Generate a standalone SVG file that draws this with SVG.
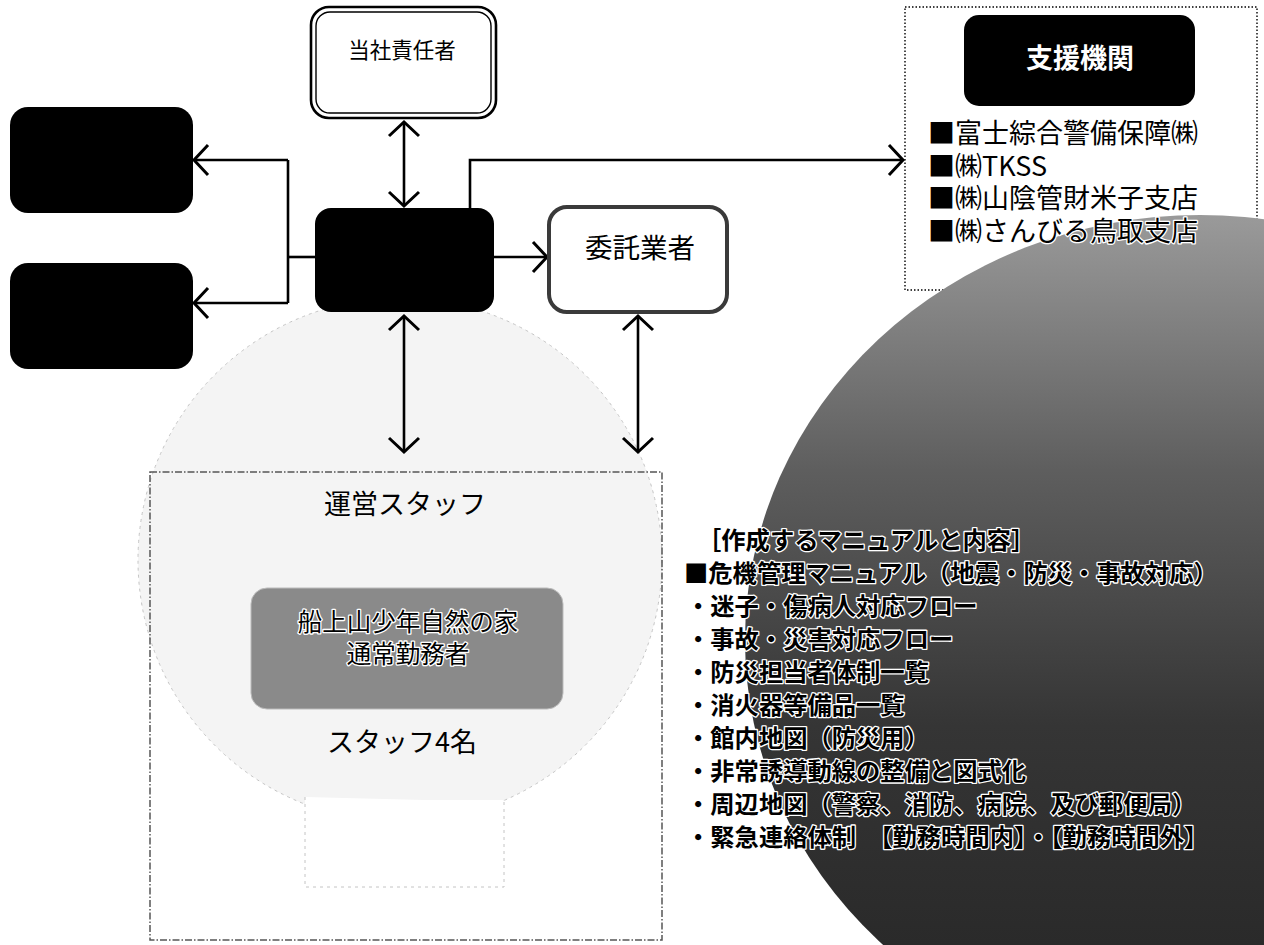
<svg xmlns="http://www.w3.org/2000/svg" width="1264" height="945" viewBox="0 0 1264 945">
<style>
.t{font-family:"Noto Sans CJK JP","Noto Sans",sans-serif;fill:#000}
.mid{text-anchor:middle;dominant-baseline:central}
.ol{stroke:#fff;stroke-width:2.6;stroke-linejoin:round;paint-order:stroke}
.conn{fill:none;stroke:#000;stroke-width:2.6}
.blk{fill:#000}
</style>
<defs>
<marker id="ah" viewBox="-17 -18 20 36" refX="0" refY="0" markerWidth="20" markerHeight="36" markerUnits="userSpaceOnUse" orient="auto-start-reverse">
<path d="M-14,-15 L0,0 L-14,15" fill="none" stroke="#000" stroke-width="3"/>
</marker>
<linearGradient id="dark" x1="0" y1="215" x2="0" y2="945" gradientUnits="userSpaceOnUse">
<stop offset="0" stop-color="#9a9a9a"/>
<stop offset="0.35" stop-color="#5e5e5e"/>
<stop offset="0.7" stop-color="#353535"/>
<stop offset="1" stop-color="#2a2a2a"/>
</linearGradient>
</defs>
<rect width="1264" height="945" fill="#fff"/>

<!-- faint background shapes -->
<g id="bgshape">
<circle cx="400" cy="560" r="262" fill="#f4f4f4" stroke="#c4c4c4" stroke-width="1" stroke-dasharray="3 4"/>
<path d="M305,797 L305,887 L504,887 L504,802" fill="#fff" stroke="#c4c4c4" stroke-width="1" stroke-dasharray="3 4"/>
<rect x="306" y="800" width="197" height="86" fill="#fff"/>
</g>

<!-- support box border -->
<rect x="905" y="7" width="352" height="283" fill="none" stroke="#000" stroke-width="1.4" stroke-dasharray="1.5 2"/>

<!-- dark circle -->
<ellipse id="darkcircle" cx="1200" cy="640" rx="455" ry="425" fill="url(#dark)"/>

<g id="connectors">
<line class="conn" x1="404" y1="122" x2="404" y2="206" marker-start="url(#ah)" marker-end="url(#ah)"/>
<path class="conn" d="M315,257 L288,257"/>
<path class="conn" d="M288,160 L288,303"/>
<line class="conn" x1="288" y1="160" x2="194" y2="160" marker-end="url(#ah)"/>
<line class="conn" x1="288" y1="303" x2="194" y2="303" marker-end="url(#ah)"/>
<line class="conn" x1="494" y1="257" x2="547" y2="257" marker-end="url(#ah)"/>
<path class="conn" d="M470,208 L470,160 L903,160" marker-end="url(#ah)"/>
<line class="conn" x1="404" y1="316" x2="404" y2="452" marker-start="url(#ah)" marker-end="url(#ah)"/>
<line class="conn" x1="638" y1="316" x2="638" y2="452" marker-start="url(#ah)" marker-end="url(#ah)"/>
</g>

<g id="n-sekininsha">
<rect x="311" y="7" width="185" height="111" rx="18" fill="#fff" stroke="#000" stroke-width="2.6"/>
<rect x="316" y="12" width="175" height="101" rx="14" fill="none" stroke="#000" stroke-width="1.4"/>
<text class="t mid" x="402" y="48" font-size="21.5">当社責任者</text>
</g>

<g id="n-left1"><rect class="blk" x="10" y="107" width="183" height="106" rx="18"/></g>
<g id="n-left2"><rect class="blk" x="10" y="263" width="183" height="106" rx="18"/></g>
<g id="n-center"><rect class="blk" x="315" y="208" width="179" height="104" rx="16"/></g>

<g id="n-itaku">
<rect x="549" y="207" width="178" height="105" rx="18" fill="#fff" stroke="#3a3a3a" stroke-width="4"/>
<text class="t mid" x="640" y="246" font-size="27.5">委託業者</text>
</g>

<g id="n-shien">
<rect class="blk" x="964" y="15" width="231" height="91" rx="15"/>
<text class="t mid" x="1080" y="56" font-size="27" font-weight="bold" style="fill:#fff">支援機関</text>
<text class="t" x="928" y="143" font-size="27">■富士綜合警備保障㈱</text>
<text class="t" x="928" y="176" font-size="27">■㈱TKSS</text>
<text class="t" x="928" y="208" font-size="27">■㈱山陰管財米子支店</text>
<text class="t ol" x="928" y="241" font-size="27">■㈱さんびる鳥取支店</text>
</g>

<g id="n-staff">
<rect x="150" y="472" width="512" height="468" fill="none" stroke="#555" stroke-width="1.5" stroke-dasharray="7 2 1.5 2"/>
<text class="t mid" x="405" y="502" font-size="27">運営スタッフ</text>
<rect x="251" y="588" width="312" height="121" rx="16" fill="#8a8a8a" stroke="#bbb" stroke-width="1"/>
<text class="t mid ol" x="408" y="620" font-size="24.5">船上山少年自然の家</text>
<text class="t mid ol" x="408" y="652" font-size="24.5">通常勤務者</text>
<text class="t mid" x="402" y="740" font-size="27">スタッフ4名</text>
</g>

<g id="n-manual" font-size="24.3" font-weight="bold">
<text class="t ol" x="697" y="549">［作成するマニュアルと内容］</text>
<text class="t ol" x="684" y="582">■危機管理マニュアル（地震・防災・事故対応）</text>
<text class="t ol" x="686" y="615">・迷子・傷病人対応フロー</text>
<text class="t ol" x="686" y="648">・事故・災害対応フロー</text>
<text class="t ol" x="686" y="681">・防災担当者体制一覧</text>
<text class="t ol" x="686" y="714">・消火器等備品一覧</text>
<text class="t ol" x="686" y="747">・館内地図（防災用）</text>
<text class="t ol" x="686" y="780">・非常誘導動線の整備と図式化</text>
<text class="t ol" x="686" y="813">・周辺地図（警察、消防、病院、及び郵便局）</text>
<text class="t ol" x="686" y="846">・緊急連絡体制　【勤務時間内】・【勤務時間外】</text>
</g>
</svg>
